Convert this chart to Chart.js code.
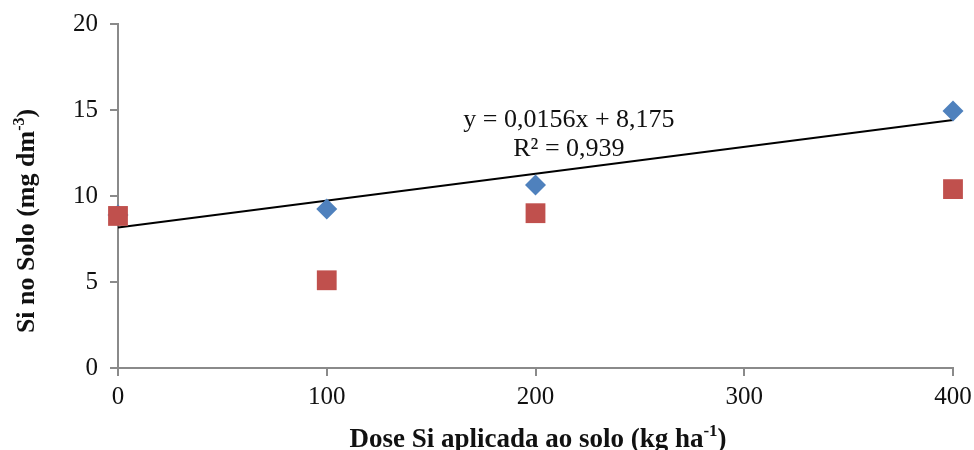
<!DOCTYPE html>
<html>
<head>
<meta charset="utf-8">
<script src="https://cdn.jsdelivr.net/npm/chart.js@4/dist/chart.umd.min.js"></script>
<style>
html,body{margin:0;padding:0;background:#fff;}
#wrap{width:974px;height:450px;}
</style>
</head>
<body>
<div id="wrap"><canvas id="c" width="974" height="450"></canvas></div>
<script>
const doses = [0, 100, 200, 400];
const blueValues = [8.9, 9.24, 10.64, 14.94];
const redValues = [8.84, 5.1, 9.0, 10.4];
const xTicks = [0, 100, 200, 300, 400];
const yTicks = [0, 5, 10, 15, 20];
const trendSlope = 0.0156;
const trendIntercept = 8.175;
const trendX = [0, 400];
const equationLines = ['y = 0,0156x + 8,175', 'R\u00B2 = 0,939'];
const xTitleParts = ['Dose Si aplicada ao solo (kg ha', '-1', ')'];
const yTitleParts = ['Si no Solo (mg dm', '-3', ')'];

const blueData = doses.map((d, i) => ({x: d, y: blueValues[i]}));
const redData = doses.map((d, i) => ({x: d, y: redValues[i]}));
const trendData = trendX.map(x => ({x: x, y: trendSlope * x + trendIntercept}));

const serif = '"Liberation Serif", "Times New Roman", serif';
const axisGray = '#8a8a8a';
const textColor = '#111';

function drawSupTitle(ctx, parts, size) {
  const mainFont = 'bold ' + size + 'px ' + serif;
  const supFont = 'bold ' + Math.round(size * 0.62) + 'px ' + serif;
  ctx.font = mainFont;
  const w0 = ctx.measureText(parts[0]).width;
  const w2 = ctx.measureText(parts[2]).width;
  ctx.font = supFont;
  const w1 = ctx.measureText(parts[1]).width;
  const total = w0 + w1 + w2;
  let x = -total / 2;
  ctx.textAlign = 'left';
  ctx.textBaseline = 'alphabetic';
  ctx.font = mainFont;
  ctx.fillText(parts[0], x, 0);
  x += w0;
  ctx.font = supFont;
  ctx.fillText(parts[1], x, -size * 0.4);
  x += w1;
  ctx.font = mainFont;
  ctx.fillText(parts[2], x, 0);
}

const textPlugin = {
  id: 'texts',
  afterDraw(chart) {
    const {ctx, scales, chartArea} = chart;
    ctx.save();
    ctx.fillStyle = textColor;
    const cx = scales.x.getPixelForValue(216);
    const y1 = scales.y.getPixelForValue(14.4);
    const y2 = scales.y.getPixelForValue(12.75);
    ctx.font = '26px ' + serif;
    ctx.textAlign = 'center';
    ctx.textBaseline = 'middle';
    ctx.fillText(equationLines[0], cx, y1);
    ctx.fillText(equationLines[1], cx, y2);
    ctx.save();
    ctx.translate(538, 447);
    drawSupTitle(ctx, xTitleParts, 27);
    ctx.restore();
    ctx.save();
    ctx.translate(34, 221);
    ctx.rotate(-Math.PI / 2);
    drawSupTitle(ctx, yTitleParts, 26);
    ctx.restore();
    ctx.restore();
  }
};

function noEdgePadding(scale) {
  scale.paddingLeft = 0;
  scale.paddingRight = 0;
  scale.paddingTop = 0;
  scale.paddingBottom = 0;
}

new Chart(document.getElementById('c'), {
  type: 'scatter',
  data: {
    datasets: [
      {
        label: 'Tendência',
        type: 'line',
        data: trendData,
        borderColor: '#000',
        borderWidth: 2,
        pointRadius: 0,
        fill: false,
        clip: false,
        order: 3
      },
      {
        label: 'Série 1',
        data: blueData,
        pointStyle: 'rectRot',
        pointRadius: 10.5,
        pointHoverRadius: 10.5,
        backgroundColor: '#4F81BD',
        borderColor: '#4F81BD',
        borderWidth: 0,
        clip: false,
        order: 2
      },
      {
        label: 'Série 2',
        data: redData,
        pointStyle: 'rect',
        pointRadius: 14,
        pointHoverRadius: 14,
        backgroundColor: '#C0504D',
        borderColor: '#C0504D',
        borderWidth: 0,
        clip: false,
        order: 1
      }
    ]
  },
  options: {
    responsive: false,
    animation: false,
    devicePixelRatio: 1,
    layout: {padding: {top: 24, right: 21, left: 0, bottom: 0}},
    plugins: {
      legend: {display: false},
      tooltip: {enabled: false}
    },
    scales: {
      x: {
        type: 'linear',
        min: 0,
        max: 400,
        afterBuildTicks(scale) { scale.ticks = xTicks.map(v => ({value: v})); },
        afterFit(scale) { scale.height = 82; noEdgePadding(scale); },
        border: {display: true, color: axisGray, width: 2},
        grid: {display: true, drawOnChartArea: false, drawTicks: true, tickLength: 8, color: axisGray, lineWidth: 2},
        ticks: {color: textColor, font: {family: serif, size: 25}, padding: 6, maxRotation: 0},
        title: {display: false}
      },
      y: {
        type: 'linear',
        min: 0,
        max: 20,
        afterBuildTicks(scale) { scale.ticks = yTicks.map(v => ({value: v})); },
        afterFit(scale) { scale.width = 118; noEdgePadding(scale); },
        border: {display: true, color: axisGray, width: 2},
        grid: {display: true, drawOnChartArea: false, drawTicks: true, tickLength: 8, color: axisGray, lineWidth: 2},
        ticks: {color: textColor, font: {family: serif, size: 25}, padding: 12},
        title: {display: false}
      }
    }
  },
  plugins: [textPlugin]
});
</script>
</body>
</html>
